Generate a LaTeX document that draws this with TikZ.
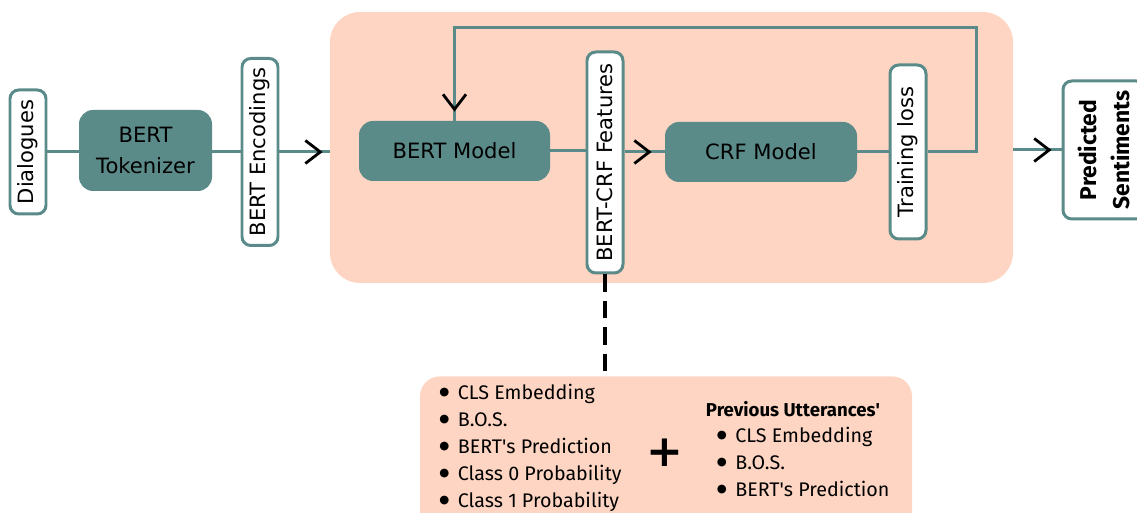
\documentclass[tikz,border=0pt]{standalone}
\usepackage{fontspec}
\setmainfont{Fira Sans}
\newfontfamily\labelfont{DejaVu Sans}
\usetikzlibrary{positioning, arrows.meta, decorations.markings}

\definecolor{teal}{RGB}{90,139,137}
\definecolor{peach}{RGB}{253,213,194}

\newcommand{\dotitem}{\makebox[0.37cm][l]{\raisebox{2.2pt}{\labelfont\fontsize{6.5}{6.5}\selectfont ●}}}

\tikzset{
    link/.style={draw=teal, line width=1.7pt},
    chev/.style={postaction={decorate, decoration={markings,
        mark=at position -#1 with {\arrow[black, line width=1.6pt]{Straight Barb[length=3mm, width=4.6mm]}}}}},
    chev/.default=0.18cm,
    tag/.style={draw=teal, fill=white, line width=1.7pt, rounded corners=5pt, rotate=90,
        font=\labelfont\fontsize{12}{14}\selectfont, minimum height=0.72cm, inner sep=0pt},
    model/.style={fill=teal, rounded corners=8pt, align=center,
        font=\labelfont\fontsize{12}{18}\selectfont, inner sep=0pt},
    bullets/.style={anchor=west, align=left, inner sep=0pt, font=\fontsize{11.2}{15.3}\selectfont},
}

\begin{document}
\begin{tikzpicture}
    \useasboundingbox (0,0) rectangle (22.74,10.26);
    \begin{scope}
    \clip (0,0) rectangle (22.74,10.26);

    % backgrounds
    \node (stage) [fill=peach, rounded corners=0.6cm, minimum width=13.66cm, minimum height=5.42cm, inner sep=0pt] at (13.43,7.31) {};
    \node (extra) [fill=peach, rounded corners=0.4cm, minimum width=9.84cm, minimum height=3.4cm, inner sep=0pt, anchor=north] at (13.32,2.74) {};

    % input side
    \node (dial) [tag, minimum width=2.48cm] at (0.56,7.22) {Dialogues};
    \node (tok) [model, minimum width=2.66cm, minimum height=1.62cm] at (2.91,7.25) {BERT\\Tokenizer};
    \node (enc) [tag, minimum width=3.74cm] at (5.2,7.22) {BERT Encodings};

    % models
    \node (bert) [model, minimum width=3.82cm, minimum height=1.2cm] at (9.09,7.24) {BERT Model};
    \node (feat) [tag, minimum width=4.42cm] at (12.1,7.01) {BERT-CRF Features};
    \node (crf) [model, minimum width=3.84cm, minimum height=1.2cm] at (15.22,7.22) {CRF Model};
    \node (loss) [tag, minimum width=3.48cm] at (18.16,7.22) {Training loss};
    \coordinate (turn) at (19.52,9.7);

    % output
    \node (pred) [tag, minimum width=2.76cm, minimum height=1.64cm, align=center,
        font=\bfseries\fontsize{13}{19}\selectfont] at (22.08,7.26) {Predicted\\Sentiments};

    % connectors
    \draw [link] (dial.south) -- (dial.south -| tok.west);
    \draw [link] (tok.east |- enc.south) -- (enc.north);
    \draw [link, chev=0.14cm] (enc.south) -- (enc.south -| stage.west);
    \draw [link] (bert.east) -- (bert.east -| feat.north);
    \draw [link, chev=0.26cm] (feat.south |- crf.west) -- (crf.west);
    \draw [link] (crf.east) -- (crf.east -| loss.north);
    \draw [link, chev] (loss.south) -| (turn) -| (bert.north);
    \draw [link, chev=0.2cm] (stage.east |- pred.north) -- (pred.north);

    % features
    \draw [line width=2.2pt, dash pattern=on 10pt off 5pt] (feat.west) -- (feat.west |- extra.north);

    \node (own) [bullets] at (8.78,1.30)
        {\dotitem CLS Embedding\\
         \dotitem B.O.S.\\
         \dotitem BERT\textquotesingle s Prediction\\
         \dotitem Class 0 Probability\\
         \dotitem Class 1 Probability};
    \node (plus) [font=\labelfont\bfseries\fontsize{25}{25}\selectfont, inner sep=0pt] at (13.3,1.2) {+};
    \node (prev) [font=\bfseries\fontsize{10.6}{12}\selectfont, inner sep=0pt] at (15.86,2.08) {Previous Utterances\textquotesingle};
    \node (prevlist) [bullets] at (14.33,1.02)
        {\dotitem CLS Embedding\\
         \dotitem B.O.S.\\
         \dotitem BERT\textquotesingle s Prediction};
    \end{scope}
\end{tikzpicture}
\end{document}
